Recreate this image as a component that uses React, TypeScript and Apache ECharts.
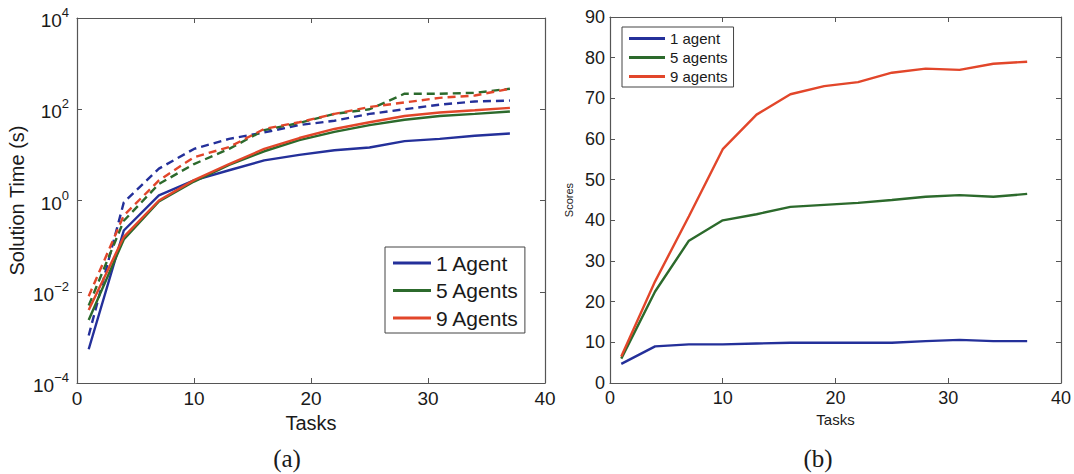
import React, { useEffect, useRef } from "react";
import * as echarts from "echarts";

// ---------- data ----------
const tasks = [1, 4, 7, 10, 13, 16, 19, 22, 25, 28, 31, 34, 37];

// (a) solution time (s), solid lines
const time1Solid = [0.00055, 0.22, 1.29, 2.75, 4.6, 7.6, 10, 12.6, 14.5, 20, 22.4, 26.3, 29.5];
const time5Solid = [0.0024, 0.14, 0.95, 2.6, 6.0, 12, 21, 32, 45, 59, 71, 79, 89];
const time9Solid = [0.004, 0.16, 1.0, 2.8, 6.3, 13.5, 23.4, 37, 52, 71, 85, 95, 107];
// (a) solution time (s), dashed lines
const time1Dash = [0.0011, 0.91, 5.0, 13.5, 22.4, 31, 45, 56, 79, 100, 126, 148, 155];
const time5Dash = [0.005, 0.36, 2.3, 6.3, 13.5, 35, 50, 79, 100, 219, 219, 229, 282];
const time9Dash = [0.008, 0.47, 2.75, 8.9, 14.8, 37, 52, 79, 112, 141, 178, 200, 282];

// (b) scores
const score1 = [4.7, 9.0, 9.5, 9.5, 9.7, 9.9, 9.9, 9.9, 9.9, 10.3, 10.6, 10.3, 10.3];
const score5 = [6.0, 22.5, 35, 40, 41.5, 43.3, 43.8, 44.3, 45, 45.8, 46.2, 45.8, 46.5];
const score9 = [6.5, 25, 41, 57.5, 66, 71, 73, 74, 76.3, 77.3, 77, 78.5, 79];

const legendA = ["1 Agent", "5 Agents", "9 Agents"];
const legendB = ["1 agent", "5 agents", "9 agents"];

const BLUE = "#24309a";
const GREEN = "#2c6a2c";
const RED = "#e2462a";
const FONT = "Liberation Sans";
const AXIS = "#555";
const TEXT = "#1a1a1a";

const pts = (ys: number[]) => tasks.map((t, i) => [t, ys[i]]);

export default function App() {
  const ref = useRef<HTMLDivElement>(null);
  useEffect(() => {
    if (!ref.current) return;
    const chart = echarts.init(ref.current, undefined, { renderer: "svg" });

    const xBase = (gridIndex: number, top: boolean, fontSize: number) => ({
      type: "value",
      gridIndex,
      position: top ? "top" : "bottom",
      min: 0,
      max: 40,
      interval: 10,
      axisLine: { show: true, onZero: false, lineStyle: { color: AXIS, width: 1.2 } },
      axisTick: { show: true, inside: true, length: 5, lineStyle: { color: AXIS } },
      axisLabel: { show: !top, fontSize, fontFamily: FONT, color: TEXT, margin: 6 },
      splitLine: { show: false },
    });

    const logLabel = (v: number) => {
      const e = Math.round(Math.log10(v));
      const s = e < 0 ? "\u2212" + -e : String(e);
      return "{b|10}{s|" + s + "}";
    };

    const yLog = (right: boolean) => ({
      type: "log",
      logBase: 10,
      gridIndex: 0,
      position: right ? "right" : "left",
      min: 0.0001,
      max: 10000,
      interval: 2,
      axisLine: { show: true, onZero: false, lineStyle: { color: AXIS, width: 1.2 } },
      axisTick: { show: true, inside: true, length: 5, lineStyle: { color: AXIS } },
      minorTick: { show: false },
      splitLine: { show: false },
      axisLabel: {
        show: !right,
        formatter: logLabel,
        margin: 8,
        rich: {
          b: { fontSize: 19, fontFamily: FONT, color: TEXT, lineHeight: 24, verticalAlign: "bottom" },
          s: { fontSize: 13, fontFamily: FONT, color: TEXT, lineHeight: 14, verticalAlign: "top" },
        },
      },
      ...(right
        ? {}
        : {
            name: "Solution Time (s)",
            nameLocation: "middle",
            nameGap: 50,
            nameTextStyle: { fontSize: 20, fontFamily: FONT, color: TEXT },
          }),
    });

    const yLin = (right: boolean) => ({
      type: "value",
      gridIndex: 1,
      position: right ? "right" : "left",
      min: 0,
      max: 90,
      interval: 10,
      axisLine: { show: true, onZero: false, lineStyle: { color: AXIS, width: 1.2 } },
      axisTick: { show: true, inside: true, length: 5, lineStyle: { color: AXIS } },
      splitLine: { show: false },
      axisLabel: { show: !right, fontSize: 18, fontFamily: FONT, color: TEXT, margin: 5 },
      ...(right
        ? {}
        : {
            name: "Scores",
            nameLocation: "middle",
            nameGap: 36,
            nameTextStyle: { fontSize: 11, fontFamily: FONT, color: TEXT },
          }),
    });

    const line = (
      name: string,
      data: number[],
      color: string,
      xi: number,
      yi: number,
      dashed: boolean
    ) => ({
      type: "line",
      name,
      data: pts(data),
      xAxisIndex: xi,
      yAxisIndex: yi,
      symbol: "none",
      showSymbol: false,
      lineStyle: { color, width: 2.4, type: dashed ? [8, 5] : "solid" },
      itemStyle: { color },
      z: dashed ? 2 : 3,
    });

    const xa0 = xBase(0, false, 19) as any;
    xa0.name = "Tasks";
    xa0.nameLocation = "middle";
    xa0.nameGap = 26;
    xa0.nameTextStyle = { fontSize: 20, fontFamily: FONT, color: TEXT, verticalAlign: "top" };
    const xa2 = xBase(1, false, 18) as any;
    xa2.name = "Tasks";
    xa2.nameLocation = "middle";
    xa2.nameGap = 27;
    xa2.nameTextStyle = { fontSize: 15, fontFamily: FONT, color: TEXT, verticalAlign: "top" };

    chart.setOption({
      animation: false,
      backgroundColor: "#ffffff",
      grid: [
        { left: 77, top: 18, width: 468, height: 365, containLabel: false },
        { left: 610, top: 17, width: 453, height: 366, containLabel: false },
      ],
      xAxis: [xa0, xBase(0, true, 19), xa2, xBase(1, true, 18)],
      yAxis: [yLog(false), yLog(true), yLin(false), yLin(true)],
      legend: [
        {
          data: legendA.map((n) => ({ name: n, icon: "rect" })),
          orient: "vertical",
          left: 385,
          top: 247,
          itemWidth: 38,
          itemHeight: 3,
          itemGap: 3.5,
          padding: [4, 6, 3, 8],
          borderColor: "#444",
          borderWidth: 1,
          backgroundColor: "#fff",
          selectedMode: false,
          textStyle: { fontSize: 21, fontFamily: FONT, color: TEXT, lineHeight: 24 },
        },
        {
          data: legendB.map((n) => ({ name: n, icon: "rect" })),
          orient: "vertical",
          left: 622,
          top: 27,
          itemWidth: 36,
          itemHeight: 3,
          itemGap: 2,
          padding: [3, 6, 2, 7],
          borderColor: "#444",
          borderWidth: 1,
          backgroundColor: "#fff",
          selectedMode: false,
          textStyle: { fontSize: 15, fontFamily: FONT, color: TEXT, lineHeight: 17 },
        },
      ],
      graphic: [
        {
          type: "text",
          x: 287,
          y: 458,
          style: {
            text: "(a)",
            fontSize: 25,
            fontFamily: "Liberation Serif",
            fill: TEXT,
            align: "center",
            verticalAlign: "middle",
          },
        },
        {
          type: "text",
          x: 818,
          y: 458,
          style: {
            text: "(b)",
            fontSize: 25,
            fontFamily: "Liberation Serif",
            fill: TEXT,
            align: "center",
            verticalAlign: "middle",
          },
        },
      ],
      series: [
        line("1 Agent dashed", time1Dash, BLUE, 0, 0, true),
        line("5 Agents dashed", time5Dash, GREEN, 0, 0, true),
        line("9 Agents dashed", time9Dash, RED, 0, 0, true),
        line(legendA[0], time1Solid, BLUE, 0, 0, false),
        line(legendA[1], time5Solid, GREEN, 0, 0, false),
        line(legendA[2], time9Solid, RED, 0, 0, false),
        line(legendB[0], score1, BLUE, 2, 2, false),
        line(legendB[1], score5, GREEN, 2, 2, false),
        line(legendB[2], score9, RED, 2, 2, false),
      ],
    });
    return () => chart.dispose();
  }, []);
  return (
    <div
      ref={ref}
      style={{ position: "absolute", left: 0, top: 0, width: 1074, height: 474 }}
    />
  );
}
